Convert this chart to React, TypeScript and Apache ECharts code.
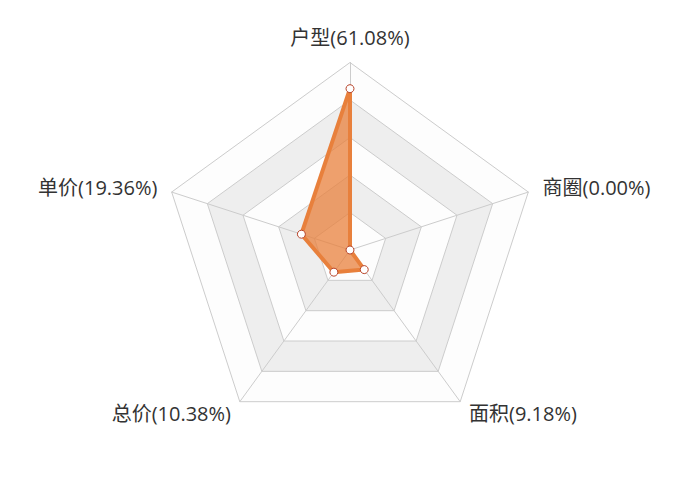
import { useEffect, useRef } from "react";
import * as echarts from "echarts";

// listed counter-clockwise from the top, the way the radar lays them out
const names = ["户型", "单价", "总价", "面积", "商圈"];
const values = [61.08, 19.36, 10.38, 9.18, 0.0];
const axisMax = 71;

export default function App() {
  const ref = useRef<HTMLDivElement>(null);

  useEffect(() => {
    if (!ref.current) return;
    const chart = echarts.init(ref.current, null, { renderer: "svg" });
    chart.setOption({
      animation: false,
      backgroundColor: "#fff",
      radar: {
        center: ["50%", "50%"],
        radius: "75%",
        splitNumber: 5,
        indicator: names.map(n => ({ name: n, max: axisMax })),
        axisName: {
          color: "#333",
          fontSize: 20,
          fontFamily: "'Open Sans', 'Noto Sans CJK SC', sans-serif",
          formatter: (n: string) => {
            const v = values[names.indexOf(n)];
            return `${n}(${v.toFixed(2)}%)`;
          },
        },
        nameGap: 15,
        splitLine: { lineStyle: { color: "#ccc" } },
        axisLine: { lineStyle: { color: "#ccc" } },
        splitArea: {
          areaStyle: { color: ["rgba(250,250,250,0.3)", "rgba(200,200,200,0.3)"] },
        },
      },
      series: [
        {
          type: "radar",
          symbol: "circle",
          symbolSize: 8,
          lineStyle: { color: "#e8803c", width: 4 },
          areaStyle: { color: "#e8803c", opacity: 0.75 },
          itemStyle: { color: "#fff", borderColor: "#b8442a", borderWidth: 1 },
          data: [{ value: values, name: "占比" }],
        },
      ],
    });
    return () => chart.dispose();
  }, []);

  return <div ref={ref} style={{ width: 700, height: 500, margin: -8 }} />;
}
